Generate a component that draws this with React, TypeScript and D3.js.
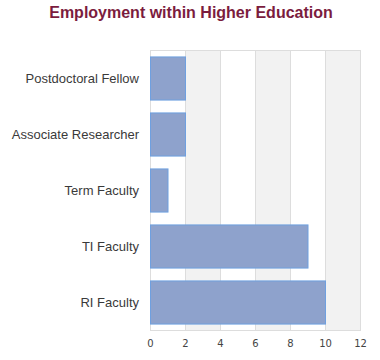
import { useEffect, useRef } from 'react';
import * as d3 from 'd3';

const categories = ['Postdoctoral Fellow', 'Associate Researcher', 'Term Faculty', 'TI Faculty', 'RI Faculty'];
const counts = [2, 2, 1, 9, 10];
const xTicks = [0, 2, 4, 6, 8, 10, 12];

export default function App() {
  const svgRef = useRef<SVGSVGElement>(null);

  useEffect(() => {
    const width = 380;
    const height = 360;
    const margin = { top: 50, right: 20, bottom: 30, left: 150 };
    const data = categories.map((c, i) => ({ c, v: counts[i] }));

    const x = d3.scaleLinear().domain([0, 12]).range([margin.left, width - margin.right]);
    const y = d3
      .scaleBand()
      .domain(categories)
      .range([margin.top, height - margin.bottom])
      .paddingInner(0.23)
      .paddingOuter(0.115);

    const svg = d3.select(svgRef.current);
    svg.selectAll('*').remove();

    // alternating bands
    svg
      .append('g')
      .selectAll('rect')
      .data(xTicks.slice(0, -1))
      .enter()
      .append('rect')
      .attr('x', d => x(d))
      .attr('y', margin.top)
      .attr('width', d => x(d + 2) - x(d))
      .attr('height', height - margin.bottom - margin.top)
      .attr('fill', (d, i) => (i % 2 ? '#f2f2f2' : '#ffffff'));

    // grid
    svg
      .append('g')
      .selectAll('line')
      .data(xTicks)
      .enter()
      .append('line')
      .attr('x1', d => x(d) + 0.5)
      .attr('x2', d => x(d) + 0.5)
      .attr('y1', margin.top)
      .attr('y2', height - margin.bottom)
      .attr('stroke', '#dddddd');

    svg
      .append('rect')
      .attr('x', margin.left + 0.5)
      .attr('y', margin.top + 0.5)
      .attr('width', x(12) - x(0))
      .attr('height', height - margin.bottom - margin.top)
      .attr('fill', 'none')
      .attr('stroke', '#dddddd');

    // bars
    svg
      .append('g')
      .selectAll('rect')
      .data(data)
      .enter()
      .append('rect')
      .attr('x', x(0) + 0.5)
      .attr('y', d => y(d.c)! + 0.5)
      .attr('width', d => x(d.v) - x(0))
      .attr('height', y.bandwidth())
      .attr('fill', '#8ea2cc')
      .attr('stroke', '#6fa0e0')
      .attr('stroke-width', 1);

    // category labels
    svg
      .append('g')
      .selectAll('text')
      .data(categories)
      .enter()
      .append('text')
      .attr('x', margin.left - 11)
      .attr('y', d => y(d)! + y.bandwidth() / 2)
      .attr('dy', '0.35em')
      .attr('text-anchor', 'end')
      .style('font-family', '"Liberation Sans", Arial, sans-serif')
      .style('font-size', '13px')
      .style('fill', '#3a3a3a')
      .text(d => d);

    // x tick labels
    svg
      .append('g')
      .selectAll('text')
      .data(xTicks)
      .enter()
      .append('text')
      .attr('x', d => x(d) + 0.5)
      .attr('y', height - margin.bottom + 17)
      .attr('text-anchor', 'middle')
      .style('font-family', '"DejaVu Sans", sans-serif')
      .style('font-size', '10px')
      .style('fill', '#444444')
      .text(d => d);

    svg
      .append('text')
      .attr('x', 191)
      .attr('y', 18)
      .attr('text-anchor', 'middle')
      .style('font-family', '"Liberation Sans", Arial, sans-serif')
      .style('font-size', '16px')
      .style('font-weight', 'bold')
      .style('fill', '#7b1c3e')
      .text('Employment within Higher Education');
  }, []);

  return (
    <div style={{ position: 'absolute', left: 0, top: 0 }}>
      <svg ref={svgRef} width={380} height={360}></svg>
    </div>
  );
}
